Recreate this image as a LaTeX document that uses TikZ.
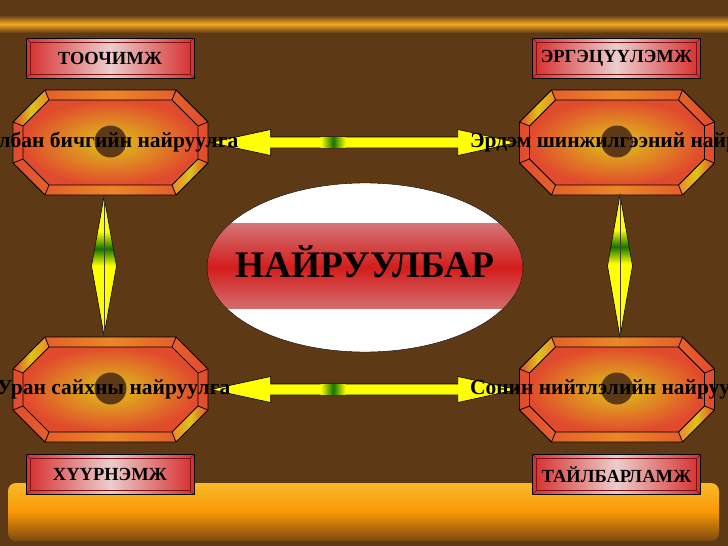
\documentclass[tikz,border=0pt]{standalone}
\usepackage{fontspec}
\setmainfont{Liberation Serif}
\usetikzlibrary{positioning, shapes.geometric, calc}

\definecolor{bgbrown}{RGB}{94,57,22}
\definecolor{barorange}{RGB}{245,170,35}
\definecolor{barlight}{RGB}{250,185,40}
\definecolor{barmid}{RGB}{248,152,8}
\definecolor{bardark}{RGB}{125,72,14}
\definecolor{octred}{RGB}{225,75,45}
\definecolor{octorange}{RGB}{236,135,40}
\definecolor{octyellow}{RGB}{222,195,25}
\definecolor{boxred}{RGB}{215,45,45}
\definecolor{boxlight}{RGB}{236,205,205}
\definecolor{boxedge}{RGB}{120,20,20}
\definecolor{arrowyellow}{RGB}{255,255,0}
\definecolor{arrowgreen}{RGB}{20,115,0}
\definecolor{bandred}{RGB}{212,28,28}
\definecolor{bandgray}{RGB}{212,198,198}

% octagon with bevel, drawn inside the node
\newcommand{\octdraw}{%
  \begin{scope}[shift={(path picture bounding box.center)}]
    \shade[left color=octred, right color=octred, middle color=octorange]
      (-65.5,52.5) -- (65.5,52.5) -- (97.5,20.5) -- (97.5,-20.5) -- (65.5,-52.5) -- (-65.5,-52.5) -- (-97.5,-20.5) -- (-97.5,20.5) -- cycle;
    \shade[left color=octred, right color=octorange, middle color=octyellow]
      (-97.5,20.5) -- (-65.5,52.5) -- (-61.5,42.5) -- (-87.5,16.5) -- cycle;
    \shade[left color=octorange, right color=octred, middle color=octyellow]
      (97.5,-20.5) -- (65.5,-52.5) -- (61.5,-42.5) -- (87.5,-16.5) -- cycle;
    \shade[inner color=octyellow, outer color=octred]
      (-61.5,42.5) -- (61.5,42.5) -- (87.5,16.5) -- (87.5,-16.5) -- (61.5,-42.5) -- (-61.5,-42.5) -- (-87.5,-16.5) -- (-87.5,16.5) -- cycle;
    \draw[line width=0.8pt]
      (-65.5,52.5) -- (65.5,52.5) -- (97.5,20.5) -- (97.5,-20.5) -- (65.5,-52.5) -- (-65.5,-52.5) -- (-97.5,-20.5) -- (-97.5,20.5) -- cycle
      (-61.5,42.5) -- (61.5,42.5) -- (87.5,16.5) -- (87.5,-16.5) -- (61.5,-42.5) -- (-61.5,-42.5) -- (-87.5,-16.5) -- (-87.5,16.5) -- cycle;
    \foreach \sx in {1,-1} \foreach \sy in {1,-1} {
      \draw[line width=0.8pt] (\sx*65.5,\sy*52.5) -- (\sx*61.5,\sy*42.5) (\sx*97.5,\sy*20.5) -- (\sx*87.5,\sy*16.5);
    }
    \fill[bgbrown] (0,1) circle (16);
  \end{scope}}

% fat horizontal double arrow, tip to tip
\newcommand{\hfat}[2]{%
  \filldraw[fill=arrowyellow, line width=0.6pt] (#1) -- ++(60,13) -- ++(0,-7.5) -- ($(#2)+(-59,5.5)$) -- ++(0,7.5) -- (#2) -- ++(-59,-13) -- ++(0,7.5) -- ($(#1)+(60,-5.5)$) -- ++(0,-7.5) -- cycle;
  \shade[left color=arrowyellow, right color=arrowyellow, middle color=arrowgreen] ($(#1)+(110,-5.2)$) rectangle ($(#1)+(135,5.2)$);
}

% long vertical kite arrow, tip to tip
\newcommand{\vfat}[2]{%
  \fill[arrowyellow] (#1) -- ($(#1)!0.5!(#2)+(12.5,0)$) -- (#2) -- ($(#1)!0.5!(#2)+(-12.5,0)$) -- cycle;
  \begin{scope}
    \clip (#1) -- ($(#1)!0.5!(#2)+(12.5,0)$) -- (#2) -- ($(#1)!0.5!(#2)+(-12.5,0)$) -- cycle;
    \shade[top color=arrowyellow, bottom color=arrowyellow, middle color=arrowgreen] ($(#1)+(-15,-35)$) rectangle ($(#1)+(15,-69)$);
  \end{scope}
  \draw[line width=0.6pt] (#1) -- ($(#1)!0.5!(#2)+(12.5,0)$) -- (#2) -- ($(#1)!0.5!(#2)+(-12.5,0)$) -- cycle;
  \draw[line width=0.6pt, black!70!olive] (#1) -- (#2);
}

\begin{document}
\begin{tikzpicture}[
    x=1pt, y=1pt,
    octbox/.style={rectangle, minimum width=198, minimum height=108, inner sep=0pt, path picture={\octdraw}},
    octtext/.style={font=\fontsize{21.5}{21.5}\selectfont\bfseries, inner sep=0pt},
    tagbox/.style={draw=black, rectangle, minimum width=168, minimum height=40, inner sep=0pt, left color=boxred, right color=boxred, middle color=boxlight, font=\fontsize{18.5}{18.5}\selectfont\bfseries}
]
    \useasboundingbox (0,0) rectangle (728,-546);
    \clip (0,0) rectangle (728,-546);

    % Fond
    \fill[bgbrown] (0,0) rectangle (728,-546);
    \shade[top color=bgbrown, bottom color=bgbrown, middle color=barorange] (0,-15) rectangle (728,-33);
    \shade[rounded corners=8pt, top color=barlight, bottom color=bardark, middle color=barmid] (8,-483) rectangle (719,-541);

    % Octogones
    \node[octbox] (albn) at (110.5,-142.5) {};
    \node[octbox] (erdm) at (617,-142.5) {};
    \node[octbox] (uran) at (110.5,-389.5) {};
    \node[octbox] (sonin) at (617,-389.5) {};

    % Fleches
    \hfat{$(albn.east)+(1,0)$}{$(erdm.west)+(-1,0)$}
    \hfat{$(uran.east)+(1,0)$}{$(sonin.west)+(-1,0)$}
    \vfat{$(albn.south)+(-6.5,0)$}{$(uran.north)+(-6.5,0)$}
    \vfat{$(erdm.south)+(3,2)$}{$(sonin.north)+(3,-2)$}

    % Textes des octogones
    \node[octtext, anchor=east] (albnT) at ($(albn.center)+(128,0)$) {Албан бичгийн найруулга};
    \node[octtext, anchor=west] (erdmT) at ($(erdm.west)+(-48,0)$) {Эрдэм шинжилгээний найруулга};
    \node[octtext, anchor=east] (uranT) at ($(uran.center)+(120,0)$) {Уран сайхны найруулга};
    \node[octtext, anchor=west] (soninT) at ($(sonin.west)+(-48,0)$) {Сонин нийтлэлийн найруулга};

    % Ellipse centrale
    \node[ellipse, draw=black, fill=white, minimum width=316, minimum height=169, inner sep=0pt,
          path picture={\shade[top color=bandgray, bottom color=bandgray, middle color=bandred]
            ($(path picture bounding box.west)+(0,44.5)$) rectangle ($(path picture bounding box.east)+(0,-40.5)$);}] (nair) at (365,-267.5) {};
    \node[font=\fontsize{37.5}{37.5}\selectfont\bfseries, inner sep=0pt, text height=24.7, text depth=5] (nairT) at (nair.center) {НАЙРУУЛБАР};

    % Etiquettes
    \node[tagbox] (tooch) at (110,-58) {ТООЧИМЖ};
    \node[tagbox] (ergts) at (616.5,-58) {ЭРГЭЦҮҮЛЭМЖ};
    \node[tagbox] (khuur) at (110,-474.5) {ХҮҮРНЭМЖ};
    \node[tagbox] (tailb) at (616.5,-474.5) {ТАЙЛБАРЛАМЖ};
    \foreach \n in {tooch, ergts, khuur, tailb} {
      \draw[boxedge, line width=0.6pt] ($(\n.north west)+(4,-4)$) rectangle ($(\n.south east)+(-4,4)$);
      \draw[boxedge, line width=0.6pt] (\n.north west) -- ++(4,-4) (\n.north east) -- ++(-4,-4)
        (\n.south west) -- ++(4,4) (\n.south east) -- ++(-4,4);
    }
\end{tikzpicture}
\end{document}
